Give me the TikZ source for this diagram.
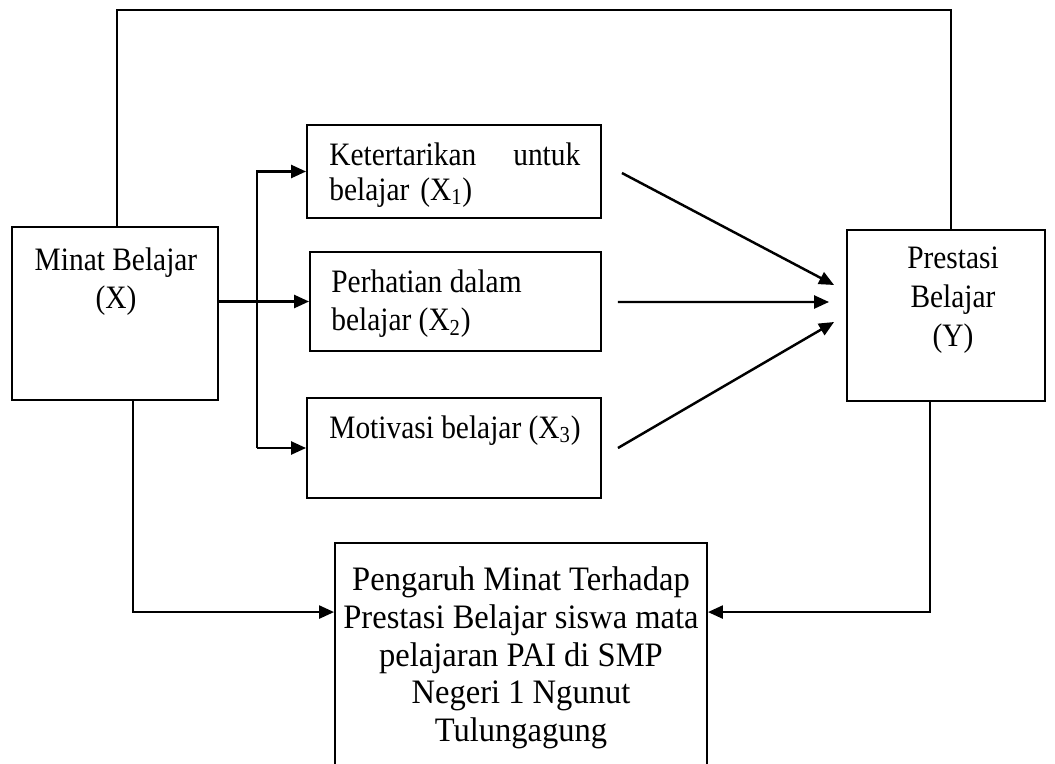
\documentclass[tikz,border=0pt]{standalone}
\usepackage{fontspec}
\setmainfont{Liberation Serif}
\newfontfamily\tallserif[FakeStretch=0.9]{Liberation Serif}
\newfontfamily\notefont[FakeStretch=0.95]{Liberation Serif}
\usetikzlibrary{arrows.meta,calc}

\begin{document}
\begin{tikzpicture}[x=0.02cm,y=-0.02cm,box/.style={draw,line width=1.1pt,inner sep=0pt},txt/.style={inner sep=0pt,font=\tallserif\fontsize{18.6}{22}\selectfont},link/.style={line width=1.4pt},arr/.style={link,-{Triangle[length=3mm,width=2.6mm]}}]
\useasboundingbox (0,0) rectangle (1055,764);
\node[box,minimum width=4.12cm,minimum height=3.46cm] (minat) at (115,313.5) {};
\node[box,minimum width=3.96cm,minimum height=3.42cm] (prestasi) at (946,315.5) {};
\node[box,minimum width=5.88cm,minimum height=1.86cm] (x1) at (454,171.5) {};
\node[box,minimum width=5.82cm,minimum height=1.98cm] (x2) at (455.5,301.5) {};
\node[box,minimum width=5.88cm,minimum height=2.00cm] (x3) at (454,448) {};
\node[box,minimum width=7.44cm,minimum height=5.14cm] (hasil) at (521,671.5) {};
\node[txt,align=center,anchor=north] (minatlbl) at (116,247) {Minat Belajar\\(X)};
\node[txt,align=center,anchor=north] (prestasilbl) at (953,247) {Prestasi\\Belajar\\(Y)};
\node[txt,font=\tallserif\fontsize{18.6}{20}\selectfont,align=left,text width=5.02cm,anchor=north west] (x1lbl) at (329,142) {Ketertarikan\hfill untuk\\belajar (X\textsubscript{1})};
\node[txt,align=left,anchor=north west] (x2lbl) at (331,269) {Perhatian dalam\\belajar (X\textsubscript{2})};
\node[txt,align=left,anchor=north west] (x3lbl) at (329,415) {Motivasi belajar (X\textsubscript{3})};
\node[txt,font=\notefont\fontsize{19.5}{21.6}\selectfont,align=center,anchor=north] (hasillbl) at (521,566) {Pengaruh Minat Terhadap\\Prestasi Belajar siswa mata\\pelajaran PAI di SMP\\Negeri 1 Ngunut\\Tulungagung};
\coordinate (topline) at (0,10);
\coordinate (fork) at (257,300);
\draw[link] ($(minat.north)+(2,0)$) -- ($(minat.north |- topline)+(2,0)$) -| ($(prestasi.north)+(5,0)$);
\draw[arr] (minat.east |- x2.west) -- (x2.west);
\draw[arr] (fork |- x3.west) |- (x1.west);
\draw[arr] (fork |- x3.west) -- (x3.west);
\draw[arr] ($(x1.east)+(20,1.5)$) -- ($(prestasi.west)+(-12,-30.5)$);
\draw[arr] ($(x2.east)+(16,0.5)$) -- ($(prestasi.west)+(-17,-13.5)$);
\draw[arr] ($(x3.east)+(16,0)$) -- ($(prestasi.west)+(-12,6.5)$);
\draw[arr] ($(minat.south)+(18,0)$) |- ($(hasil.north west)+(0,70)$);
\draw[arr] ($(prestasi.south)+(-16,0)$) |- ($(hasil.north east)+(0,70)$);
\end{tikzpicture}
\end{document}
